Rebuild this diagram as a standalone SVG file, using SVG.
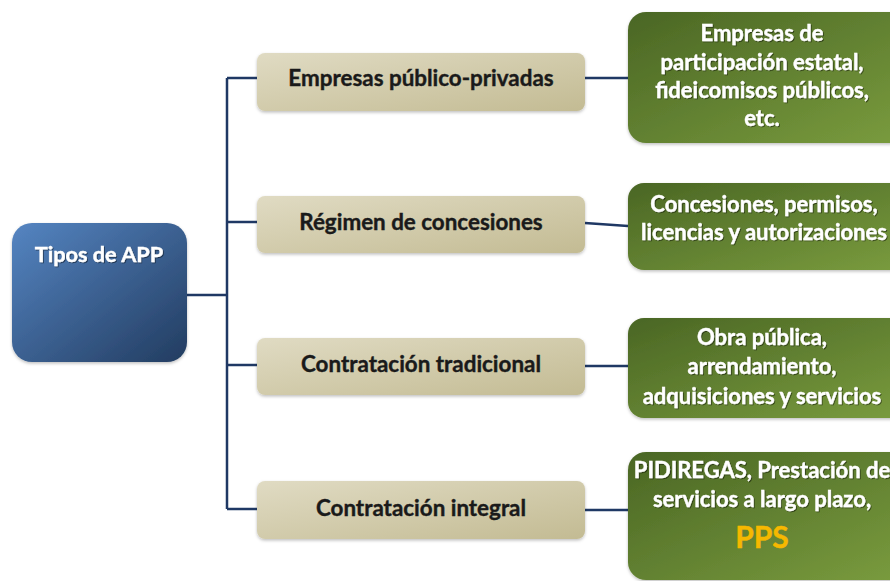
<svg xmlns="http://www.w3.org/2000/svg" width="890" height="581" viewBox="0 0 890 581">
<defs>
<linearGradient id="gBlue" x1="0" y1="0" x2="1" y2="1">
<stop offset="0" stop-color="#5585C2"/>
<stop offset="1" stop-color="#223C60"/>
</linearGradient>
<linearGradient id="gTan" x1="0" y1="0" x2="1" y2="1">
<stop offset="0" stop-color="#E0DBC3"/>
<stop offset="1" stop-color="#C3BB93"/>
</linearGradient>
<linearGradient id="gGreen" x1="0" y1="0" x2="1" y2="1">
<stop offset="0" stop-color="#4A6624"/>
<stop offset="1" stop-color="#7A9C3E"/>
</linearGradient>
<filter id="sh" x="-10%" y="-10%" width="120%" height="130%">
<feDropShadow dx="0" dy="1.5" stdDeviation="1.5" flood-color="#000" flood-opacity="0.25"/>
</filter>
<filter id="tsh" x="-5%" y="-20%" width="110%" height="140%">
<feDropShadow dx="1" dy="1" stdDeviation="0.6" flood-color="#000" flood-opacity="0.45"/>
</filter>
</defs>
<style>
.conn{fill:none;stroke:#1F3864;stroke-width:2.5}
.t{font-family:Lato,"Liberation Sans",sans-serif;font-weight:bold;text-anchor:middle;stroke-width:0.4}
.mid{font-size:22.4px;fill:#1A1A1A;stroke:#1A1A1A}
.wh{font-size:22px;fill:#FFFFFF;stroke:#FFFFFF}
.pps{font-size:30px;fill:#F6B800;stroke:#F6B800}
</style>
<rect width="890" height="581" fill="#FFFFFF"/>
<g id="connectors">
<path class="conn" d="M187 295 H227"/>
<path class="conn" d="M227 78 V509"/>
<path class="conn" d="M227 78 H257"/>
<path class="conn" d="M227 222 H257"/>
<path class="conn" d="M227 365 H257"/>
<path class="conn" d="M227 509 H257"/>
<path class="conn" d="M585 78 H628"/>
<path class="conn" d="M585 223 L628 226"/>
<path class="conn" d="M585 366 H628"/>
<path class="conn" d="M585 510 H628"/>
</g>
<g id="root">
<rect x="12" y="223" width="175" height="139" rx="20" fill="url(#gBlue)" filter="url(#sh)"/>
<text class="t wh" x="99" y="262" style="font-size:21.7px" filter="url(#tsh)">Tipos de APP</text>
</g>
<g id="n1">
<rect x="257" y="53" width="328" height="58" rx="8" fill="url(#gTan)" filter="url(#sh)"/>
<text class="t mid" x="421" y="86">Empresas público-privadas</text>
</g>
<g id="n2">
<rect x="257" y="196" width="328" height="57" rx="8" fill="url(#gTan)" filter="url(#sh)"/>
<text class="t mid" x="421" y="230">Régimen de concesiones</text>
</g>
<g id="n3">
<rect x="257" y="338" width="328" height="57" rx="8" fill="url(#gTan)" filter="url(#sh)"/>
<text class="t mid" x="421" y="372">Contratación tradicional</text>
</g>
<g id="n4">
<rect x="257" y="481" width="328" height="58" rx="8" fill="url(#gTan)" filter="url(#sh)"/>
<text class="t mid" x="421" y="516">Contratación integral</text>
</g>
<g id="g1">
<rect x="628" y="12" width="280" height="131" rx="18" fill="url(#gGreen)" filter="url(#sh)"/>
<g filter="url(#tsh)">
<text class="t wh" x="762" y="41">Empresas de</text>
<text class="t wh" x="762" y="70">participación estatal,</text>
<text class="t wh" x="762" y="98">fideicomisos públicos,</text>
<text class="t wh" x="762" y="126">etc.</text>
</g>
</g>
<g id="g2">
<rect x="628" y="183" width="280" height="87" rx="16" fill="url(#gGreen)" filter="url(#sh)"/>
<g filter="url(#tsh)">
<text class="t wh" x="764" y="212">Concesiones, permisos,</text>
<text class="t wh" x="764" y="240">licencias y autorizaciones</text>
</g>
</g>
<g id="g3">
<rect x="628" y="318" width="280" height="100" rx="16" fill="url(#gGreen)" filter="url(#sh)"/>
<g filter="url(#tsh)">
<text class="t wh" x="762" y="345">Obra pública,</text>
<text class="t wh" x="762" y="374">arrendamiento,</text>
<text class="t wh" x="762" y="404">adquisiciones y servicios</text>
</g>
</g>
<g id="g4">
<rect x="628" y="452" width="280" height="128" rx="18" fill="url(#gGreen)" filter="url(#sh)"/>
<g filter="url(#tsh)">
<text class="t wh" x="762" y="478">PIDIREGAS, Prestación de</text>
<text class="t wh" x="762" y="507">servicios a largo plazo,</text>
</g>
<text class="t pps" x="762" y="548">PPS</text>
</g>
</svg>
